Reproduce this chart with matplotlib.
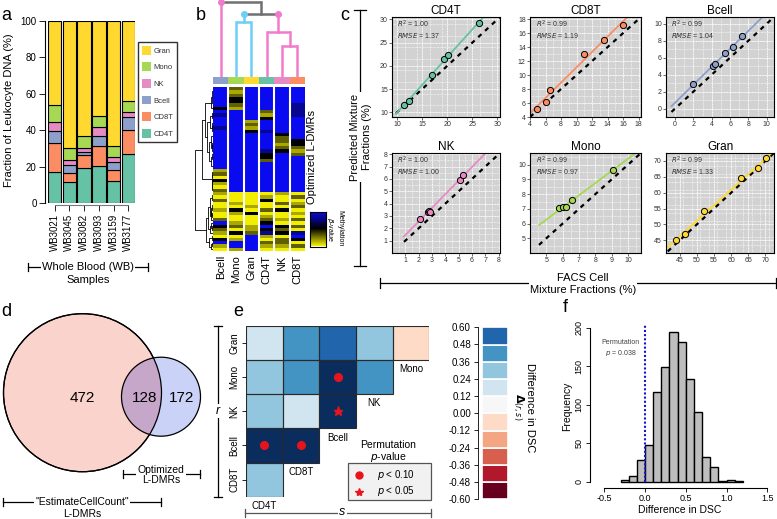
import numpy as np
import matplotlib.pyplot as plt
from matplotlib.patches import Circle, Rectangle
from matplotlib.colors import ListedColormap, BoundaryNorm, LinearSegmentedColormap

plt.rcParams['font.family'] = ['Liberation Sans', 'DejaVu Sans']
plt.rcParams['axes.unicode_minus'] = False

W, H = 777, 519

# ---------------- data ----------------
cell_colors = {'CD4T': '#66C2A5', 'CD8T': '#FC8D62', 'Bcell': '#8DA0CB',
               'NK': '#E78AC3', 'Mono': '#A6D854', 'Gran': '#FFD92F'}

# panel a
samples = ['WB3021', 'WB3045', 'WB3082', 'WB3093', 'WB3159', 'WB3177']
frac_CD4T = [17.0, 11.5, 19.5, 20.3, 12.3, 26.7]
frac_CD8T = [16.1, 4.9, 6.6, 11.0, 6.0, 13.5]
frac_Bcell = [6.2, 4.3, 1.9, 5.3, 4.1, 7.3]
frac_NK = [5.1, 2.7, 2.1, 5.3, 2.8, 2.7]
frac_Mono = [9.2, 6.6, 6.8, 5.8, 6.2, 5.9]
frac_Gran = [46.4, 70.0, 63.1, 52.3, 68.6, 43.9]

# panel b (rows of the heatmap, columns Bcell Mono Gran CD4T NK CD8T)
hm_cols = ['Bcell', 'Mono', 'Gran', 'CD4T', 'NK', 'CD8T']
hm_levels = {'B': 1.0, 'b': 0.8, 'k': 0.5, 'o': 0.3, 'y': 0.15, 'Y': 0.0}
hm_rows = ['BoBBBB', 'ByBBBB', 'BoBBBB', 'BkBBBB', 'BkBBBB', 'BoBBBb',
           'kyBBBb', 'BBBoBb', 'bBByBb', 'BBBkBB', 'BByBBB', 'BBoBBB',
           'bByBBB', 'BBkbBB', 'BBBBkB', 'BBBBoB', 'BBBBok', 'BBBByk',
           'BBBBoo', 'BBBbky', 'BBBkBo', 'BBBkBB', 'BBBoBB', 'BBBBBB',
           'BBBBBB', 'yBBBBB', 'oBBBBB', 'YBBBBB', 'kBBBBB', 'yBBBBB',
           'YBBBBB', 'oBBBBB', 'yYYYyY', 'YYYyYo', 'oYYkYY', 'YyYYoy',
           'YYyYYo', 'ykYokY', 'YykYYy', 'YYYyYY', 'oYYoyo', 'ByYkYY',
           'koyBko', 'oYykoY', 'ykobkb', 'YYByYB', 'kyBYok', 'BBBooY',
           'yBByyo', 'YyBYYY']
# column dendrogram: (left node, right node, merge height)
col_merges = [(4, 5, 0.40), (3, 6, 0.58), (1, 2, 0.70), (8, 7, 0.81), (0, 9, 0.97)]

# panel c: FACS (x) vs predicted (y)
cd4t_facs = [11.4, 12.4, 16.9, 19.3, 20.1, 26.4]
cd4t_pred = [11.6, 12.5, 18.1, 21.4, 22.3, 29.2]
cd8t_facs = [4.9, 6.0, 6.6, 11.0, 13.5, 16.0]
cd8t_pred = [5.2, 6.2, 7.9, 13.0, 15.0, 17.2]
bcell_facs = [2.0, 4.1, 4.4, 5.4, 6.3, 7.3]
bcell_pred = [2.9, 5.0, 5.2, 6.5, 7.3, 8.5]
nk_facs = [2.1, 2.7, 2.75, 2.85, 5.1, 5.35]
nk_pred = [2.75, 3.35, 3.4, 3.35, 5.95, 6.3]
mono_facs = [5.8, 6.05, 6.2, 6.55, 9.1]
mono_pred = [7.03, 7.13, 7.13, 7.6, 9.67]
gran_facs = [43.9, 46.5, 52.0, 63.0, 67.7, 70.2]
gran_pred = [45.0, 46.9, 54.3, 64.6, 67.7, 70.8]
r2_vals = {'CD4T': 1.00, 'CD8T': 0.99, 'Bcell': 0.99, 'NK': 1.00, 'Mono': 0.99, 'Gran': 0.99}
rmse_vals = {'CD4T': 1.37, 'CD8T': 1.19, 'Bcell': 1.04, 'NK': 1.00, 'Mono': 0.97, 'Gran': 1.33}

# panel d
venn_only_ecc = 472
venn_both = 128
venn_only_opt = 172

# panel e
e_rows = ['Gran', 'Mono', 'NK', 'Bcell', 'CD8T']
e_cols = ['CD4T', 'CD8T', 'Bcell', 'NK', 'Mono']
nan = np.nan
delta_dsc = [[0.18, 0.42, 0.54, 0.30, -0.06],
             [0.30, 0.42, 0.70, 0.42, nan],
             [0.30, 0.18, 0.72, nan, nan],
             [0.75, 0.72, nan, nan, nan],
             [0.30, nan, nan, nan, nan]]
perm_sig = ['.....', '..o..', '..*..', 'oo...', '.....']   # o: p<0.10, *: p<0.05
e_bounds = [-0.60, -0.48, -0.36, -0.24, -0.12, 0.00, 0.12, 0.24, 0.36, 0.48, 0.60]
e_colors = ['#67001F', '#B2182B', '#D6604D', '#F4A582', '#FDDBC7',
            '#F7F7F7', '#D1E5F0', '#92C5DE', '#4393C3', '#2166AC']

# panel f
hist_edges = [-0.3, -0.2, -0.1, 0.0, 0.1, 0.2, 0.3, 0.4, 0.5, 0.6, 0.7, 0.8, 0.9, 1.0, 1.1, 1.2]
hist_counts = [2, 7, 28, 47, 117, 149, 194, 181, 133, 90, 32, 19, 1, 2, 1]

# ---------------- figure ----------------
fig = plt.figure(figsize=(W / 100, H / 100), dpi=100)


def axpx(l, t, r, b):
    return fig.add_axes([l / W, 1 - b / H, (r - l) / W, (b - t) / H])


ov = fig.add_axes([0, 0, 1, 1])
ov.set_xlim(0, W)
ov.set_ylim(H, 0)
ov.axis('off')
ov.set_zorder(10)


def hbracket(x0, x1, y, tk=4, color='black'):
    ov.plot([x0, x1], [y, y], color=color, lw=0.9)
    ov.plot([x0, x0], [y - tk, y + tk], color=color, lw=0.9)
    ov.plot([x1, x1], [y - tk, y + tk], color=color, lw=0.9)


def vbracket(x, y0, y1, tk=4, color='black'):
    ov.plot([x, x], [y0, y1], color=color, lw=0.9)
    ov.plot([x - tk, x + tk], [y0, y0], color=color, lw=0.9)
    ov.plot([x - tk, x + tk], [y1, y1], color=color, lw=0.9)


wbox = dict(fc='white', ec='none', pad=1)

for lab, (x, y) in zip('abcdef', [(1, 15), (196, 15), (340, 15), (1, 312), (233, 312), (563, 308)]):
    ov.text(x, y, lab, fontsize=13, ha='left', va='center')

# ---- panel a
ax = axpx(48, 21, 135, 203)
xpos = np.arange(len(samples))
bottom = np.zeros(len(samples))
stack = [('CD4T', frac_CD4T), ('CD8T', frac_CD8T), ('Bcell', frac_Bcell),
         ('NK', frac_NK), ('Mono', frac_Mono), ('Gran', frac_Gran)]
for name, vals in stack:
    ax.bar(xpos, vals, width=0.905, bottom=bottom, color=cell_colors[name],
           edgecolor='black', lw=0.8)
    bottom += np.array(vals)
ax.set_xlim(-0.4525, 5.4525)
ax.set_ylim(0, 100)
for s in ['top', 'right']:
    ax.spines[s].set_visible(False)
ax.spines['left'].set_position(('outward', 2.2))
ax.spines['bottom'].set_position(('outward', 1.5))
ax.spines['bottom'].set_bounds(0, 5)
ax.spines['bottom'].set_color('#777777')
ax.set_yticks([0, 20, 40, 60, 80, 100])
ax.set_xticks(xpos, samples, rotation=90)
ax.tick_params(length=4, width=0.6, labelsize=7, pad=2)
ov.text(9, 110, 'Fraction of Leukocyte DNA (%)', rotation=90, fontsize=8, ha='center', va='center')
handles = [Rectangle((0, 0), 1, 1, fc=cell_colors[n], ec='none') for n, _ in stack[::-1]]
leg = fig.legend(handles, [n for n, _ in stack[::-1]], loc='upper left',
                 bbox_to_anchor=(138 / W, 1 - 42 / H), fontsize=5.5, frameon=True, fancybox=False,
                 edgecolor='black', handlelength=1.2, handleheight=1.4, labelspacing=1.0,
                 borderpad=0.5, handletextpad=0.35, borderaxespad=0)
for t in leg.get_texts():
    t.set_color('#333333')
hbracket(28, 148, 267)
ov.text(88, 267, 'Whole Blood (WB)', fontsize=8, ha='center', va='center', bbox=wbox)
ov.text(88, 280, 'Samples', fontsize=8, ha='center', va='center')

# ---- panel b
M = np.array([[hm_levels[ch] for ch in row] for row in hm_rows])
axh = axpx(213, 87, 305, 251)
cmap_b = LinearSegmentedColormap.from_list('yb', ['#F2EE00', '#000000', '#0A0AF0'])
axh.imshow(M, aspect='auto', cmap=cmap_b, vmin=0, vmax=1, interpolation='nearest',
           extent=(0, 6, len(M), 0))
for k in range(1, 6):
    axh.axvline(k, color='white', lw=1.5)
axh.set_xticks(np.arange(6) + 0.5, hm_cols, rotation=90, fontsize=8)
axh.tick_params(length=0, pad=3)
axh.set_yticks([])
for s in axh.spines.values():
    s.set_visible(False)

axcb = axpx(213, 77, 305, 84)
axcb.imshow(np.arange(6)[None, :], aspect='auto',
            cmap=ListedColormap([cell_colors[c] for c in hm_cols]), extent=(0, 6, 1, 0))
axcb.axis('off')

# row dendrogram (ordered divisive split of the rows shown)
axr = axpx(195, 87, 213, 251)
segs = []


def build(lo, hi):
    if hi - lo == 1:
        return lo + 0.5, 0.0
    best, bk = -1.0, lo + 1
    for k in range(lo + 1, hi):
        a, b = M[lo:k], M[k:hi]
        w = len(a) * len(b) / (len(a) + len(b)) * np.sum((a.mean(0) - b.mean(0)) ** 2)
        if w > best:
            best, bk = w, k
    p1, h1 = build(lo, bk)
    p2, h2 = build(bk, hi)
    h = max(h1, h2) + np.sqrt(best) + 0.05
    segs.append(([h1, h, h, h2], [p1, p1, p2, p2]))
    return (p1 + p2) / 2, h


_, hroot = build(0, len(M))
for xs, ys in segs:
    axr.plot(xs, ys, color='black', lw=0.6)
axr.set_xlim(hroot * 1.02, 0)
axr.set_ylim(len(M), 0)
axr.axis('off')

# column dendrogram
axd = axpx(213, 0, 305, 76.7)
pos = {i: i + 0.5 for i in range(6)}
hgt = {i: 0.0 for i in range(6)}
pink, sky, grey = '#F07CCB', '#6CCFF6', '#707070'
node_col = {0: pink, 1: sky, 2: sky, 3: pink, 4: pink, 5: pink, 6: pink, 7: pink, 8: sky, 9: grey, 10: grey}
parent_h = {}
for n, (a, b, h) in enumerate(col_merges):
    nid = 6 + n
    pos[nid] = (pos[a] + pos[b]) / 2
    hgt[nid] = h
    parent_h[a] = h
    parent_h[b] = h
    axd.plot([pos[a], pos[b]], [h, h], color=node_col[nid], lw=1.8, solid_capstyle='butt')
for nid in pos:
    if nid in parent_h:
        axd.plot([pos[nid], pos[nid]], [hgt[nid], parent_h[nid]], color=node_col[nid], lw=1.8)
for nid in [0, 8, 7]:
    axd.plot(pos[nid], parent_h[nid], 'o', ms=4, color=node_col[nid], clip_on=False)
axd.set_xlim(0, 6)
axd.set_ylim(0, 0.99)
axd.axis('off')

ov.text(312, 157, 'Optimized L-DMRs', rotation=90, fontsize=8, ha='center', va='center')
axk = axpx(310, 212, 326, 246.5)
axk.imshow(np.linspace(1, 0, 50)[:, None], aspect='auto', cmap=cmap_b, vmin=0, vmax=1)
axk.set_xticks([])
axk.set_yticks([])
for s in axk.spines.values():
    s.set_linewidth(0.8)
ov.text(330, 230, r'$\beta$-value', rotation=270, fontsize=5, ha='center', va='center')
ov.text(339.5, 228, 'Methylation', rotation=270, fontsize=5, ha='center', va='center')

# ---- panel c
panels_c = [
    ('CD4T', cd4t_facs, cd4t_pred, (392, 17, 500, 117), (9.8, 30.5), [10, 15, 20, 25, 30], 2.5),
    ('CD8T', cd8t_facs, cd8t_pred, (530, 17, 641, 117), (4, 18.3), [4, 6, 8, 10, 12, 14, 16, 18], 1),
    ('Bcell', bcell_facs, bcell_pred, (666, 17, 774, 117), (-0.4, 10.8), [0, 2, 4, 6, 8, 10], 1),
    ('NK', nk_facs, nk_pred, (392, 153, 500, 253), (0.9, 8.1), [1, 2, 3, 4, 5, 6, 7, 8], 0.5),
    ('Mono', mono_facs, mono_pred, (530, 153, 641, 253), (4.55, 10.8), [5, 6, 7, 8, 9, 10], 0.5),
    ('Gran', gran_facs, gran_pred, (666, 153, 774, 253), (41.5, 72.5), [45, 50, 55, 60, 65, 70], 2.5),
]
for name, xs, ys, rect, lims, ticks, mstep in panels_c:
    a = axpx(*rect)
    a.set_facecolor('#D2D2D2')
    a.set_xlim(lims)
    a.set_ylim(lims)
    a.set_xticks(ticks)
    a.set_yticks(ticks)
    minor = np.arange(np.floor(lims[0]), lims[1], mstep)
    a.set_xticks(minor, minor=True)
    a.set_yticks(minor, minor=True)
    a.grid(True, which='major', color='white', lw=0.7, ls=(0, (1, 0.6)))
    a.grid(True, which='minor', color='white', lw=0.5, ls=(0, (1, 1)))
    a.set_axisbelow(True)
    a.plot(lims, lims, color='black', lw=1.6, dashes=(2, 2.2))
    sl, ic = np.polyfit(xs, ys, 1)
    a.plot(lims, sl * np.array(lims) + ic, color=cell_colors[name], lw=1.3)
    a.scatter(xs, ys, s=20, c=cell_colors[name], edgecolors='black', linewidths=0.7, zorder=3)
    a.set_title(name, fontsize=8.5, pad=2)
    a.tick_params(which='major', length=2, width=0.5, labelsize=5, pad=1, colors='#333333')
    a.tick_params(which='minor', length=0)
    for s in a.spines.values():
        s.set_linewidth(0.8)
    a.text(0.05, 0.925, r'$R^2$ = %.2f' % r2_vals[name], transform=a.transAxes, fontsize=5,
           va='center', color='#333333')
    a.text(0.05, 0.82, r'$RMSE$ = %.2f' % rmse_vals[name], transform=a.transAxes, fontsize=5,
           va='center', color='#333333')

vbracket(360, 10, 266, tk=6)
ov.text(361, 137, 'Predicted Mixture\nFractions (%)', rotation=90, fontsize=8, ha='center',
        va='center', bbox=wbox, linespacing=1.15)
hbracket(380, 776, 283, tk=5)
ov.text(583, 284, 'FACS Cell\nMixture Fractions (%)', fontsize=8, ha='center', va='center',
        bbox=wbox, linespacing=1.15)

# ---- panel d
big = Circle((82.5, 392.7), 79, fc='#FAD3CC', ec='black', lw=0.9)
small = Circle((161, 396.7), 39.5, fc='#CAD3F7', ec='none')
ov.add_patch(big)
ov.add_patch(small)
over = Circle((161, 396.7), 39.5, fc='#C6A7C9', ec='none')
ov.add_patch(over)
over.set_clip_path(big)
ov.add_patch(Circle((161, 396.7), 39.5, fc='none', ec='black', lw=0.9))
ov.add_patch(Circle((82.5, 392.7), 79, fc='none', ec='black', lw=0.9))
ov.text(82, 398, str(venn_only_ecc), fontsize=11, ha='center', va='center')
ov.text(145, 398, str(venn_both), fontsize=11, ha='center', va='center')
ov.text(182, 398, str(venn_only_opt), fontsize=11, ha='center', va='center')
hbracket(123, 200, 474, tk=4)
ov.text(161, 475, 'Optimized\nL-DMRs', fontsize=7.5, ha='center', va='center', bbox=wbox,
        linespacing=1.1)
hbracket(3, 161, 502, tk=4)
ov.text(82, 502, '"EstimateCellCount"', fontsize=7.5, ha='center', va='center', bbox=wbox)
ov.text(82, 514, 'L-DMRs', fontsize=7.5, ha='center', va='center')

# ---- panel e
D = np.array(delta_dsc)
cmap_e = ListedColormap(e_colors)
cmap_e.set_over('#0B2D5E')
cmap_e.set_bad((1, 1, 1, 0))
norm_e = BoundaryNorm(e_bounds, cmap_e.N)
ae = axpx(246, 326, 429.3, 496.7)
ae.patch.set_alpha(0)
ae.pcolormesh(np.arange(6), np.arange(6), np.ma.masked_invalid(D), cmap=cmap_e, norm=norm_e)
for i in range(5):
    for j in range(5):
        if not np.isnan(D[i, j]):
            ae.add_patch(Rectangle((j, i), 1, 1, fc='none', ec='#2A2A2A', lw=0.8))
ae.set_xlim(0, 5)
ae.set_ylim(5, 0)
for s in ae.spines.values():
    s.set_visible(False)
ae.set_xticks([])
ae.set_yticks(np.arange(5) + 0.5, e_rows, rotation=90, va='center', fontsize=7)
ae.tick_params(axis='y', length=3, width=0.6, pad=2)
for j, lab in enumerate(e_cols):
    ae.text(j + 0.5, 5 - j + 0.12, lab, ha='center', va='top', fontsize=7)
for i, row in enumerate(perm_sig):
    for j, ch in enumerate(row):
        if ch == 'o':
            ae.plot(j + 0.5, i + 0.5, 'o', color='#E8141C', ms=5.5)
        elif ch == '*':
            ae.plot(j + 0.5, i + 0.5, '*', color='#E8141C', ms=6.5)

ov.text(388, 445, 'Permutation', fontsize=7.5, ha='center', va='center')
ov.text(388, 457, r'$p$-value', fontsize=7.5, ha='center', va='center')
ov.add_patch(Rectangle((348, 463), 82.5, 37, fc='#F1F1F1', ec='#555555', lw=0.9))
ov.plot(359, 475, 'o', color='#E8141C', ms=5)
ov.plot(359, 491.5, '*', color='#E8141C', ms=6)
ov.text(377, 475, r'$p$ < 0.10', fontsize=7, va='center')
ov.text(377, 491.5, r'$p$ < 0.05', fontsize=7, va='center')

axce = axpx(482, 327.3, 508, 499.3)
for i in range(10):
    axce.bar(0.5, e_bounds[i + 1] - e_bounds[i], bottom=e_bounds[i], width=1,
             color=e_colors[i], edgecolor='white', lw=1.2)
axce.set_xlim(0, 1)
axce.set_ylim(-0.6, 0.6)
axce.set_xticks([])
axce.set_yticks(e_bounds, ['%.2f' % v if abs(v) > 1e-9 else '0.00' for v in e_bounds])
axce.tick_params(axis='y', length=3, width=0.6, labelsize=7, pad=2)
for s in ['top', 'right', 'bottom']:
    axce.spines[s].set_visible(False)
axce.spines['left'].set_position(('outward', 3))
axce.spines['left'].set_linewidth(0.6)
ov.text(530, 408, 'Difference in DSC', rotation=270, fontsize=8, ha='center', va='center')
ov.text(518, 407, r'$\mathbf{\Delta}_{(r,s)}$', rotation=270, fontsize=8, ha='center', va='center')

vbracket(218, 326, 497, tk=4)
ov.text(218, 411, 'r', fontsize=9, style='italic', ha='center', va='center', bbox=wbox)
hbracket(245, 431, 513, tk=4, color='#555555')
ov.text(342, 512, 's', fontsize=9, style='italic', ha='center', va='center', bbox=wbox)

# ---- panel f
af = axpx(590, 325, 770, 488)
af.bar(hist_edges[:-1], hist_counts, width=np.diff(hist_edges), align='edge',
       color='#BEBEBE', edgecolor='black', lw=1.0)
af.set_xlim(-0.675, 1.533)
af.set_ylim(-8.2, 203.5)
af.plot([0, 0], [0, 203], color='#1515D0', lw=1.5, ls=(0, (1, 1)))
for s in ['top', 'right']:
    af.spines[s].set_visible(False)
af.spines['left'].set_bounds(0, 200)
af.spines['bottom'].set_bounds(-0.5, 1.5)
af.set_xticks([-0.5, 0.0, 0.5, 1.0, 1.5])
af.set_yticks([0, 50, 100, 150, 200])
af.tick_params(length=3, width=0.6, labelsize=6.5, pad=1.5)
for t in af.get_yticklabels():
    t.set_rotation(90)
    t.set_va('center')
af.set_xlabel('Difference in DSC', fontsize=7.5, labelpad=1)
af.set_ylabel('Frequency', fontsize=7.5, labelpad=2)
ov.text(640, 343, 'Permutation', fontsize=5, ha='right', va='center', color='#444444')
ov.text(637, 353, r'$p$ = 0.038', fontsize=5, ha='right', va='center', color='#444444')

fig.savefig('out.png', dpi=100)
